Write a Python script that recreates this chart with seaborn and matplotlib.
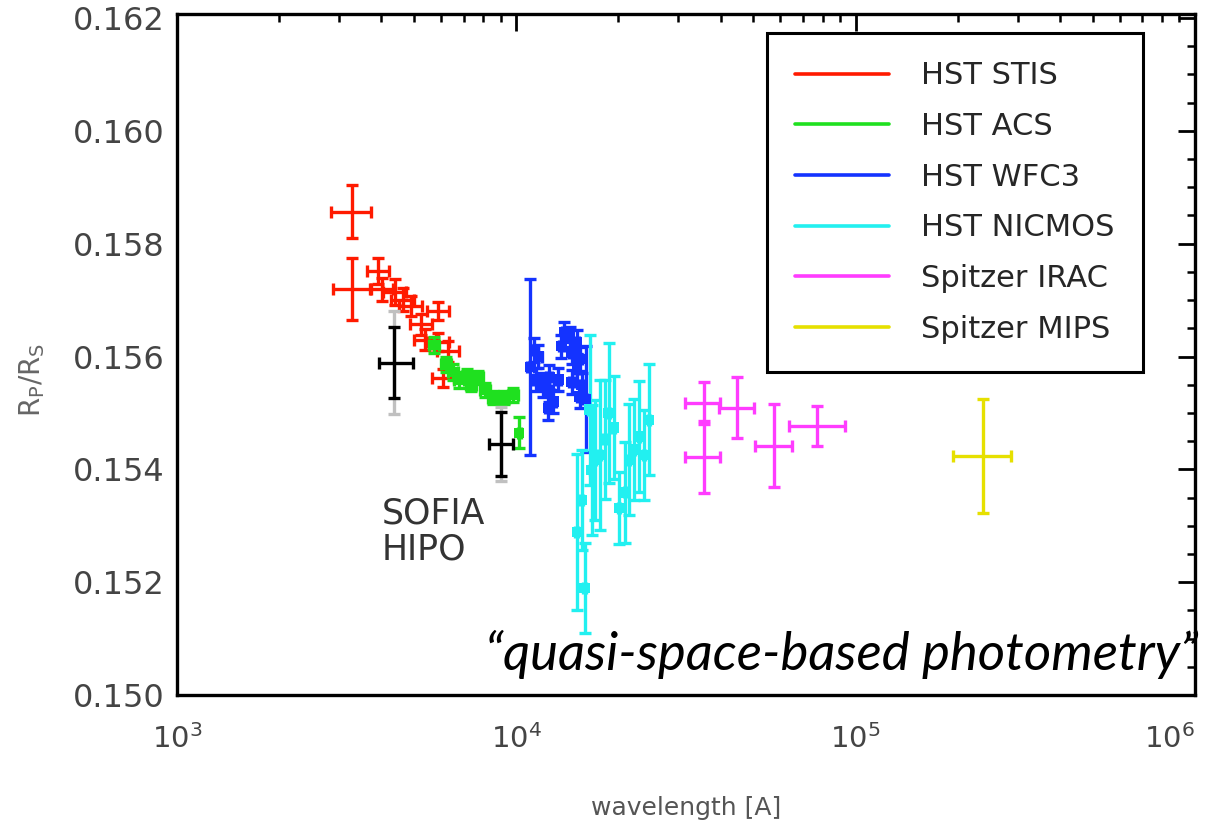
import numpy as np
import pandas as pd
import matplotlib
matplotlib.use("Agg")
import matplotlib.pyplot as plt
import seaborn as sns
from matplotlib.lines import Line2D
from matplotlib.ticker import LogLocator, MultipleLocator, NullFormatter, FixedLocator

# ---------------- data ----------------
# HST STIS
stis_wl = [3272, 3272, 3909, 4015, 4385, 4632, 4886, 5236, 5381, 5878, 5878, 6292, 6083]
stis_xm = [436, 398, 290, 300, 330, 350, 370, 390, 400, 440, 440, 470, 450]
stis_xp = [452, 452, 300, 310, 340, 360, 380, 400, 410, 450, 450, 480, 460]
stis_rp = [0.15857, 0.15719, 0.15751, 0.15719, 0.15715, 0.15701, 0.15690, 0.15657,
           0.15630, 0.15681, 0.15625, 0.15609, 0.15562]
stis_err = [0.00047, 0.00055, 0.00023, 0.00021, 0.00023, 0.00020, 0.00018, 0.00018,
            0.00018, 0.00016, 0.00016, 0.00018, 0.00016]

# HST ACS
acs_wl = [5717, 6208, 6512, 6783, 7163, 7361, 7720, 8097, 8551, 9216, 9797, 10207]
acs_rp = [0.15621, 0.15586, 0.15573, 0.15559, 0.15566, 0.15550, 0.15563, 0.15541,
          0.15527, 0.15527, 0.15532, 0.15465]
acs_err = [0.00014, 0.00014, 0.00014, 0.00014, 0.00012, 0.00012, 0.00012, 0.00012,
           0.00012, 0.00012, 0.00012, 0.00027]
acs_xerr = [200, 210, 220, 230, 240, 250, 260, 270, 290, 310, 330, 120]

# HST WFC3
wfc3_wl = [11000, 11306, 11617, 11460, 12018, 12522, 12522, 12866, 12440, 13310, 13586,
           13868, 14355, 15062, 14550, 15363, 15062, 14550, 15569, 15363, 16000]
wfc3_rp = [0.15582, 0.15612, 0.15600, 0.15559, 0.15550, 0.15564, 0.15541, 0.15520,
           0.15509, 0.15559, 0.15618, 0.15644, 0.15635, 0.15626, 0.15607, 0.15595,
           0.15577, 0.15555, 0.15550, 0.15529, 0.15524]
wfc3_err = [0.00156, 0.00021, 0.00021, 0.00021, 0.00021, 0.00021, 0.00021, 0.00021,
            0.00021, 0.00021, 0.00021, 0.00018, 0.00018, 0.00021, 0.00021, 0.00021,
            0.00021, 0.00021, 0.00021, 0.00021, 0.00094]
wfc3_xerr = [250] * 21

# HST NICMOS
nic_wl = [15062, 15569, 15887, 16450, 16670, 17010, 17600, 18210, 18700, 19350, 20030,
          20880, 21450, 22200, 22970, 23770, 24580]
nic_rp = [0.15289, 0.15346, 0.15190, 0.15506, 0.15399, 0.15417, 0.15426, 0.15453,
          0.15500, 0.15474, 0.15332, 0.15359, 0.15417, 0.15435, 0.15458, 0.15426, 0.15488]
nic_err = [0.00138, 0.00089, 0.00080, 0.00133, 0.00115, 0.00106, 0.00133, 0.00106,
           0.00124, 0.00092, 0.00064, 0.00089, 0.00098, 0.00089, 0.00098, 0.00080, 0.00098]
nic_xerr = [150] * 17

# Spitzer IRAC
irac_wl = [35700, 35700, 44800, 57600, 77200]
irac_lo = [31400, 31400, 39600, 50600, 63800]
irac_hi = [39900, 39900, 50200, 65100, 93300]
irac_rp = [0.15518, 0.15422, 0.15509, 0.15442, 0.15477]
irac_err = [0.00037, 0.00064, 0.00054, 0.00073, 0.00036]

# Spitzer MIPS
mips_wl = [237700]
mips_lo = [193600]
mips_hi = [287800]
mips_rp = [0.15424]
mips_err = [0.00101]

# SOFIA HIPO
sofia_wl = [4355, 9040]
sofia_lo = [3933, 8318]
sofia_hi = [4956, 9793]
sofia_rp = [0.15589, 0.15445]
sofia_err = [0.00063, 0.00057]
sofia_syserr = [0.00091, 0.00066]

labels = ["HST STIS", "HST ACS", "HST WFC3", "HST NICMOS", "Spitzer IRAC", "Spitzer MIPS"]
colors = ["#ff1a00", "#1fe01f", "#1433ff", "#22f0f0", "#ff3cff", "#e6e000"]
y_ticks = [0.150, 0.152, 0.154, 0.156, 0.158, 0.160, 0.162]
x_ticks = [1e3, 1e4, 1e5, 1e6]
x_ticklabels = [r"$10^{3}$", r"$10^{4}$", r"$10^{5}$", r"$10^{6}$"]

# ---------------- figure ----------------
sns.set_theme(style="white")
plt.rcParams["font.family"] = ["DejaVu Sans"]

fig = plt.figure(figsize=(12.17, 8.30), dpi=100)
ax = fig.add_axes([0.1454, 0.1627, 0.8365, 0.8210])

lw = 2.4
cap = 4.5

def ebar(wl, rp, xm, xp, err, color, z=3):
    ax.errorbar(wl, rp, xerr=[xm, xp], yerr=err, fmt="none", ecolor=color,
                elinewidth=lw, capsize=cap, capthick=lw, zorder=z)

ebar(stis_wl, stis_rp, stis_xm, stis_xp, stis_err, colors[0], 3)
ebar(acs_wl, acs_rp, acs_xerr, acs_xerr, acs_err, colors[1], 4)
ebar(wfc3_wl, wfc3_rp, wfc3_xerr, wfc3_xerr, wfc3_err, colors[2], 3)
ebar(nic_wl, nic_rp, nic_xerr, nic_xerr, nic_err, colors[3], 3)
ebar(irac_wl, irac_rp, np.subtract(irac_wl, irac_lo), np.subtract(irac_hi, irac_wl),
     irac_err, colors[4], 3)
ebar(mips_wl, mips_rp, np.subtract(mips_wl, mips_lo), np.subtract(mips_hi, mips_wl),
     mips_err, colors[5], 3)

# SOFIA: systematic (gray) + statistical (black)
ax.errorbar(sofia_wl, sofia_rp, yerr=sofia_syserr, fmt="none", ecolor="#c0c0c0",
            elinewidth=lw, capsize=cap, capthick=lw, zorder=5)
ax.errorbar(sofia_wl, sofia_rp,
            xerr=[np.subtract(sofia_wl, sofia_lo), np.subtract(sofia_hi, sofia_wl)],
            yerr=sofia_err, fmt="none", ecolor="black",
            elinewidth=lw, capsize=cap, capthick=lw, zorder=6)

# square markers for ACS / WFC3 / NICMOS
df = pd.DataFrame({
    "wl": acs_wl + wfc3_wl + nic_wl,
    "rp": acs_rp + wfc3_rp + nic_rp,
    "inst": ["HST ACS"] * len(acs_wl) + ["HST WFC3"] * len(wfc3_wl) + ["HST NICMOS"] * len(nic_wl),
})
sns.scatterplot(data=df, x="wl", y="rp", hue="inst", marker="s", s=55, linewidth=0,
                palette={"HST ACS": colors[1], "HST WFC3": colors[2], "HST NICMOS": colors[3]},
                legend=False, ax=ax, zorder=7)

ax.set_xscale("log")
ax.set_xlim(1e3, 1e6)
ax.set_ylim(0.150, 0.16208)

ax.yaxis.set_major_locator(FixedLocator(y_ticks))
ax.yaxis.set_minor_locator(MultipleLocator(0.0005))
ax.yaxis.set_major_formatter(matplotlib.ticker.FormatStrFormatter("%.3f"))
ax.set_xticks(x_ticks, labels=x_ticklabels)
ax.xaxis.set_minor_locator(LogLocator(base=10, subs=np.arange(2, 10), numticks=20))
ax.xaxis.set_minor_formatter(NullFormatter())

ax.tick_params(which="both", direction="in", top=True, right=True, color="black")
ax.tick_params(which="major", length=12, width=2.0, labelcolor="#444444")
ax.tick_params(which="minor", length=6, width=1.8)
ax.tick_params(axis="y", which="major", labelsize=23, pad=9)
ax.tick_params(axis="x", which="major", labelsize=21, pad=21)
for s in ax.spines.values():
    s.set_linewidth(2.4)
    s.set_color("black")
# keep the last x label inside the figure
ax.get_xticklabels()[-1].set_horizontalalignment("right")

ax.set_xlabel("wavelength [A]", fontsize=18, color="#555555", labelpad=30)
ax.set_ylabel(r"$\mathregular{R_P/R_S}$", fontsize=20, color="#666666")
ax.yaxis.set_label_coords(-0.128, 0.462)

handles = [Line2D([0], [0], color=c, lw=2.6) for c in colors]
leg = ax.legend(handles, labels, loc="upper right", bbox_to_anchor=(0.949, 0.971),
                fontsize=22, handlelength=3.1, handletextpad=1.05, labelspacing=0.71,
                borderpad=0.92, frameon=True, fancybox=False, borderaxespad=0)
leg.get_frame().set_edgecolor("black")
leg.get_frame().set_linewidth(2.2)
leg.get_frame().set_alpha(1)

ax.text(4000, 0.15290, "SOFIA\nHIPO", fontsize=25, color="#333333",
        ha="left", va="center", linespacing=1.05)
fig.text(0.9845, 0.211, "\u201cquasi-space-based photometry\u201d", fontsize=38,
         family="Lato", style="italic", color="black", ha="right", va="center")

fig.savefig("out.png", dpi=100)
